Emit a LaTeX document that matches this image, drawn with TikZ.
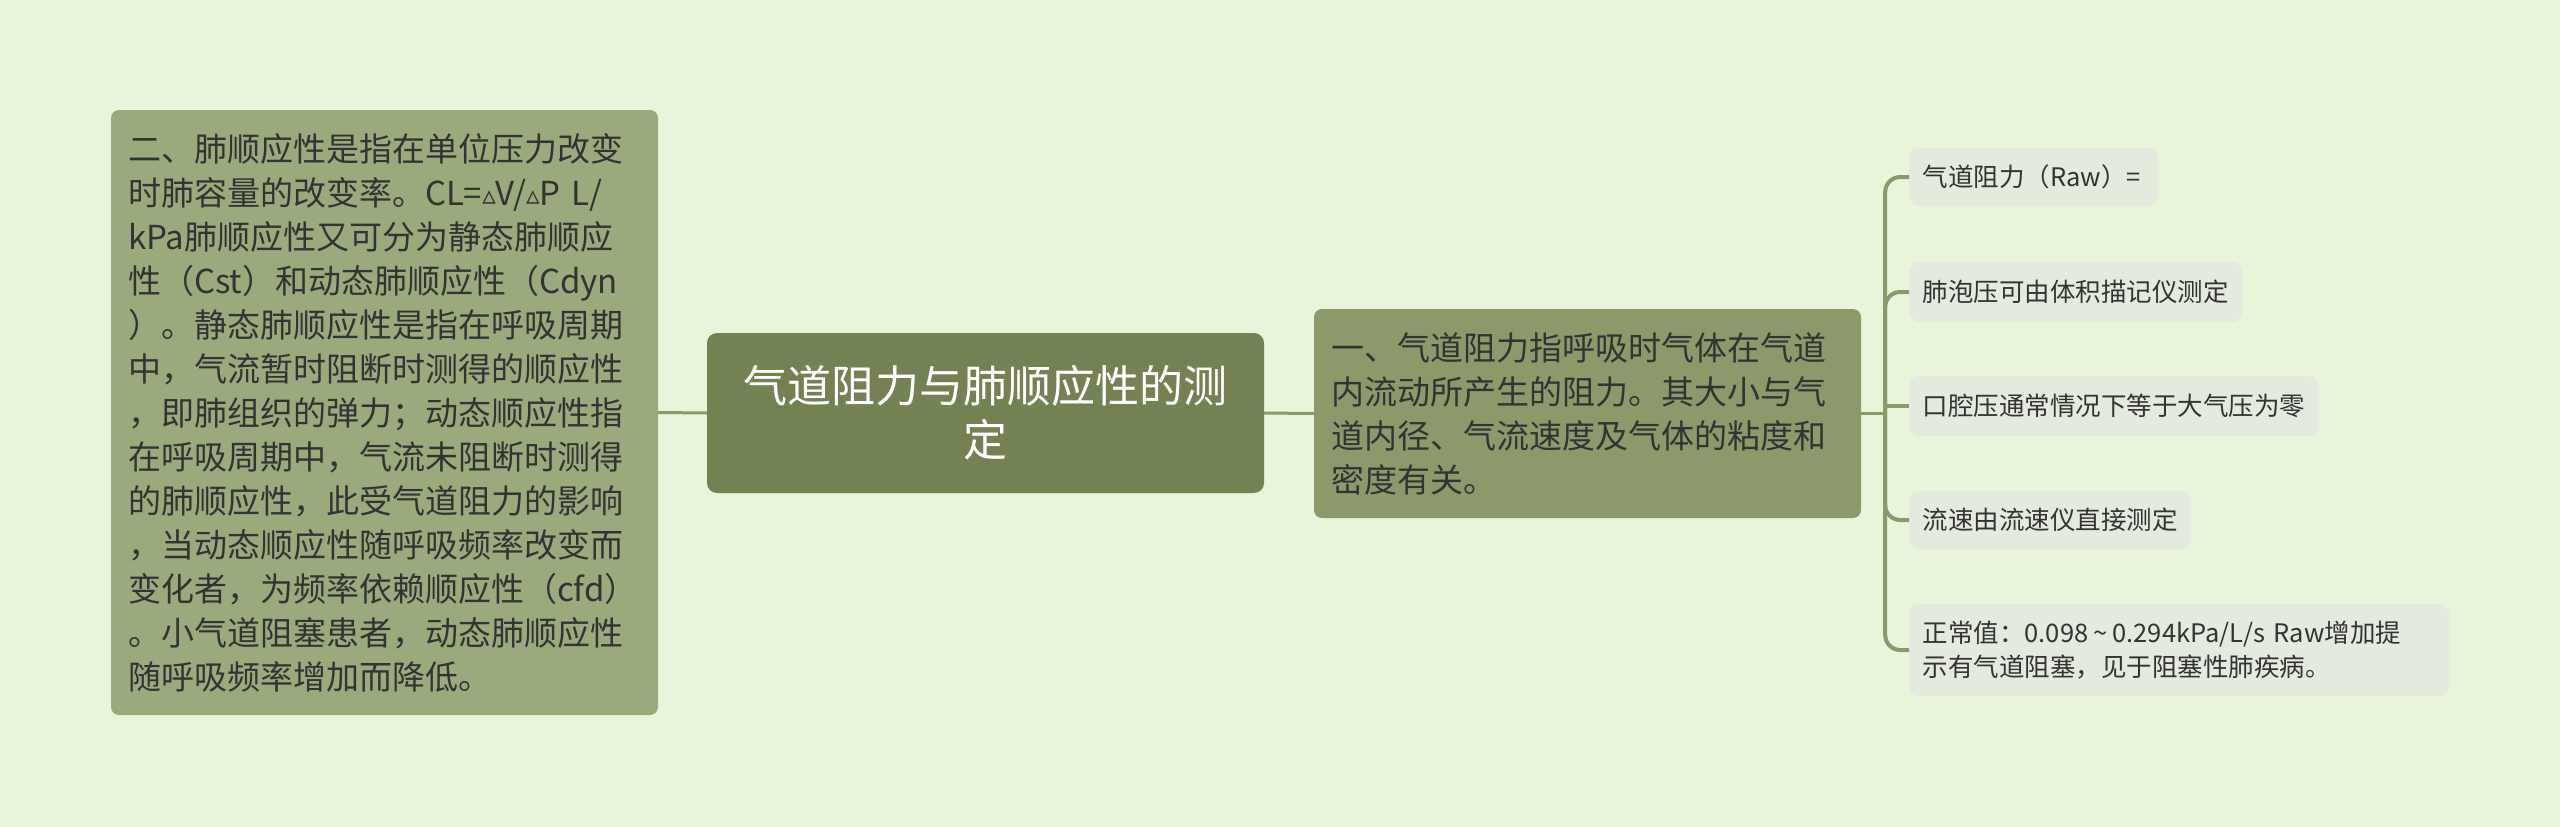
\documentclass[tikz,border=0pt]{standalone}
\usepackage{fontspec}
\setmainfont{Noto Sans CJK SC}
\newfontfamily\dvs{DejaVu Sans}
\definecolor{bg}{HTML}{E8F5DA}
\definecolor{centerc}{HTML}{738252}
\definecolor{leftc}{HTML}{9BAA7D}
\definecolor{rightc}{HTML}{8C9A6B}
\definecolor{leafc}{HTML}{E5EADE}
\definecolor{linec}{HTML}{8A9A6A}
\definecolor{txt}{HTML}{333333}
\newcommand{\tri}{{\dvs\fontsize{27}{27}\selectfont\raisebox{1pt}{▵}}}
\begin{document}
\begin{tikzpicture}[x=1pt,y=-1pt]
\tikzset{
 topic/.style={rounded corners=10pt, fill=centerc, text=white, align=center, inner sep=0pt, minimum width=557pt, minimum height=160pt, font=\fontsize{44}{54}\selectfont},
 mainbox/.style={rounded corners=8pt, inner sep=0pt, text=txt, align=left, text width=513pt, minimum width=547pt, font=\fontsize{33}{44}\selectfont},
 leaf/.style={rounded corners=10pt, fill=leafc, text=txt, align=left, inner xsep=13.5pt, inner ysep=0pt, anchor=west, font=\fontsize{25.5}{34}\selectfont},
 conn/.style={draw=linec, line width=3pt},
 branch/.style={draw=linec, line width=4pt, rounded corners=15pt},
}
\useasboundingbox (0,0) rectangle (2560,827);
\fill[bg] (0,0) rectangle (2560,827);

\node[topic] (C) at (985.5,413) {气道阻力与肺顺应性的测\\定};

\node[mainbox, fill=leftc, minimum height=605pt] (L) at (384.5,412.5) {二、肺顺应性是指在单位压力改变\\
时肺容量的改变率。CL=\tri V/\tri P L/\\
kPa肺顺应性又可分为静态肺顺应\\
性（Cst）和动态肺顺应性（Cdyn\\
）。静态肺顺应性是指在呼吸周期\\
中，气流暂时阻断时测得的顺应性\\
，即肺组织的弹力；动态顺应性指\\
在呼吸周期中，气流未阻断时测得\\
的肺顺应性，此受气道阻力的影响\\
，当动态顺应性随呼吸频率改变而\\
变化者，为频率依赖顺应性（cfd）\\
。小气道阻塞患者，动态肺顺应性\\
随呼吸频率增加而降低。};

\node[mainbox, fill=rightc, minimum height=209pt] (R) at (1587.5,413.5) {一、气道阻力指呼吸时气体在气道\\
内流动所产生的阻力。其大小与气\\
道内径、气流速度及气体的粘度和\\
密度有关。};

\node[leaf, minimum height=58pt, text width=222pt] (leaf1) at (1909,177) {气道阻力（Raw）=};
\node[leaf, minimum height=60pt] (leaf2) at (1909,292) {肺泡压可由体积描记仪测定};
\node[leaf, minimum height=60pt] (leaf3) at (1909,406) {口腔压通常情况下等于大气压为零};
\node[leaf, minimum height=59pt] (leaf4) at (1909,520) {流速由流速仪直接测定};
\node[leaf, minimum height=92pt, text width=513pt] (leaf5) at (1909,650) {正常值：0.098\hspace{5pt}\textasciitilde\hspace{5pt}0.294kPa/L/s Raw增加提\\示有气道阻塞，见于阻塞性肺疾病。};

\draw[conn] (L.east) -- (C.west);
\draw[conn] (C.east) -- (R.west);
\coordinate (J) at ([xshift=24pt]R.east);
\draw[conn] (R.east) -- (J);
\draw[branch] (J) |- (leaf1.west);
\draw[branch] (J) |- (leaf2.west);
\draw[branch] (J |- leaf3.west) -- (leaf3.west);
\draw[branch] (J) |- (leaf4.west);
\draw[branch] (J) |- (leaf5.west);
\end{tikzpicture}
\end{document}
